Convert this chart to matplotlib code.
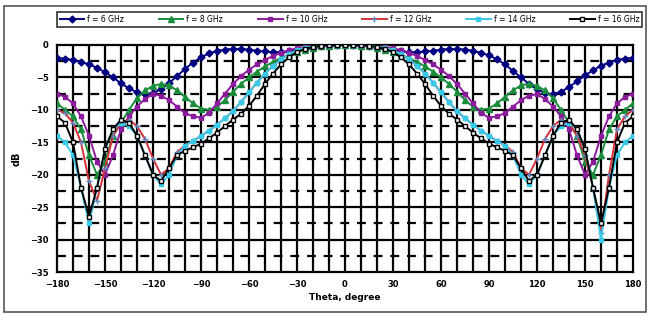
import numpy as np
import matplotlib
matplotlib.use('Agg')
import matplotlib.pyplot as plt
from matplotlib.patches import Rectangle

theta = np.arange(-180, 181, 5)

# values read at 5 deg steps: left half -180..0, right half 0..180
f6_left = [-2, -2.1, -2.3, -2.6, -3.0, -3.5, -4.2, -5.0, -5.9, -6.7, -7.3, -7.6, -7.4, -6.8, -5.9, -4.8, -3.7, -2.7,
           -1.9, -1.3, -0.9, -0.7, -0.6, -0.6, -0.7, -0.9, -1.0, -1.1, -1.1, -1.0, -0.8, -0.6, -0.4, -0.2, -0.1, -0.05, 0]
f6_right = [0, -0.05, -0.1, -0.2, -0.4, -0.6, -0.8, -1.0, -1.1, -1.1, -1.0, -0.9, -0.7, -0.6, -0.6, -0.7, -0.9, -1.2,
            -1.6, -2.2, -3.0, -4.0, -5.0, -6.0, -6.8, -7.4, -7.6, -7.2, -6.5, -5.6, -4.7, -3.9, -3.2, -2.7, -2.3, -2.1, -2]
f8_left = [-9, -10, -11, -13, -17, -20, -18, -14, -12, -10, -8.2, -7, -6.3, -6, -6.2, -7, -8, -9, -9.8, -10,
           -9.5, -8.5, -7.2, -6, -5, -4.1, -3.3, -2.6, -2, -1.5, -1.1, -0.7, -0.4, -0.2, -0.1, -0.05, 0]
f8_right = [0, -0.05, -0.1, -0.2, -0.4, -0.7, -1.1, -1.5, -2, -2.6, -3.3, -4.1, -5, -6, -7.2, -8.5, -9.5, -10, -9.8,
            -9, -8, -7, -6.2, -6, -6.3, -7, -8.2, -10, -12, -14, -18, -20, -17, -13, -11, -10, -9]
f10_left = [-7.5, -8, -9, -11, -14, -18, -20, -17, -13, -11, -9.5, -8.3, -7.6, -7.8, -8.5, -9.5, -10.5, -11, -11.2,
            -10.5, -9, -7.5, -6, -4.8, -3.8, -3, -2.3, -1.7, -1.2, -0.8, -0.5, -0.3, -0.2, -0.1, -0.05, 0, 0]
f10_right = [0, 0, -0.05, -0.1, -0.2, -0.3, -0.5, -0.8, -1.2, -1.7, -2.3, -3, -3.8, -4.8, -6, -7.5, -9, -10.5, -11.2,
             -11, -10.5, -9.5, -8.5, -7.8, -7.6, -8.3, -9.5, -11, -13, -17, -20, -18, -14, -11, -9, -8, -7.5]
f12_left = [-10, -10.5, -12, -15, -21, -24, -19, -14, -12, -11.5, -12.5, -14.5, -17.5, -20, -19, -16.5, -15.5, -14.8,
            -14, -13.2, -12.3, -11.3, -10.2, -8.8, -7.3, -5.8, -4.4, -3.2, -2.2, -1.4, -0.8, -0.4, -0.2, -0.05, 0, 0, 0]
f12_right = [0, 0, 0, -0.05, -0.2, -0.4, -0.8, -1.4, -2.2, -3.2, -4.4, -5.8, -7.3, -8.8, -10.2, -11.3, -12.3, -13.2,
             -14, -14.8, -15.5, -16.5, -19, -20, -17.5, -14.5, -12.5, -11.5, -12, -14, -17, -22, -29, -20, -13, -11, -10]
f14_left = [-14, -15, -17, -22, -27.5, -22, -16, -13, -12, -12.5, -14, -17, -20, -21.5, -20, -17, -15.5, -14.8, -14,
            -13.2, -12.3, -11.3, -10.2, -8.8, -7.3, -5.8, -4.4, -3.2, -2.2, -1.4, -0.8, -0.4, -0.2, -0.05, 0, 0, 0]
f14_right = [0, 0, 0, -0.05, -0.2, -0.4, -0.8, -1.4, -2.2, -3.2, -4.4, -5.8, -7.3, -8.8, -10.2, -11.3, -12.3, -13.2,
             -14, -14.8, -15.5, -17, -20, -21.5, -20, -17, -14, -12.5, -12, -13, -16, -22, -30, -22, -17, -15, -14]
f16_left = [-11, -12, -15, -22, -26.5, -22, -16, -13, -11.5, -12, -14, -17, -20, -21, -19, -17, -16.3, -15.8, -15.2,
            -14.4, -13.5, -12.5, -11.5, -10.6, -9.4, -7.8, -6, -4.4, -3, -1.9, -1.1, -0.6, -0.3, -0.1, 0, 0, 0]
f16_right = [0, 0, 0, -0.1, -0.3, -0.6, -1.1, -1.9, -3, -4.4, -6, -7.8, -9.4, -10.6, -11.5, -12.5, -13.5, -14.4,
             -15.2, -15.8, -16.3, -17, -19, -21, -20, -17, -14, -12, -11.5, -13, -16, -22, -27.5, -22, -15, -12, -11]

labels = ['f = 6 GHz', 'f = 8 GHz', 'f = 10 GHz', 'f = 12 GHz', 'f = 14 GHz', 'f = 16 GHz']

halves = [(f6_left, f6_right), (f8_left, f8_right), (f10_left, f10_right),
          (f12_left, f12_right), (f14_left, f14_right), (f16_left, f16_right)]
series = [np.array(l + r[1:]) for l, r in halves]

styles = [
    dict(color='#000080', marker='D', ms=3.5, mfc='#000080', mec='#000080'),
    dict(color='#1a8c3c', marker='^', ms=4, mfc='#1a8c3c', mec='#1a8c3c'),
    dict(color='#8c1a9c', marker='s', ms=3.5, mfc='#8c1a9c', mec='#8c1a9c'),
    dict(color='#d8303a', marker='+', ms=4, mfc='#5a8cc8', mec='#5a8cc8'),
    dict(color='#38c8e8', marker='s', ms=3, mfc='#38c8e8', mec='#38c8e8'),
    dict(color='black', marker='s', ms=3, mfc='white', mec='black'),
]

fig = plt.figure(figsize=(6.51, 3.16), dpi=100)
W, H = 651, 316
fig.patches.append(Rectangle((4 / W, 4 / H), 642 / W, 306 / H, transform=fig.transFigure,
                             fill=False, ec='#555555', lw=1.2))

ax = fig.add_axes([57 / W, 1 - 272 / H, 576 / W, 227 / H])

for y, st, lab in zip(series, styles, labels):
    ax.plot(theta, y, lw=1.4, label=lab, zorder=3, **st)

ax.set_xlim(-180, 180)
ax.set_ylim(-35, 0)
ax.set_xticks(np.arange(-180, 181, 30))
ax.set_yticks(np.arange(-35, 1, 5))
for v in np.arange(-170, 180, 10):
    ax.axvline(v, color='black', lw=1.6, zorder=1)
for v in np.arange(-30, 0, 5):
    ax.axhline(v, color='black', lw=1.6, zorder=1)
for v in np.arange(-32.5, 0, 5):
    ax.axhline(v, color='black', lw=1.6, ls=(0, (4, 3.5)), zorder=1)
for s in ax.spines.values():
    s.set_linewidth(1.6)
ax.tick_params(length=0, labelsize=6, pad=6)
for t in ax.get_xticklabels() + ax.get_yticklabels():
    t.set_fontweight('bold')
ax.set_xlabel('Theta, degree', fontsize=6.5, fontweight='bold', labelpad=3)
ax.set_ylabel('dB', fontsize=7, fontweight='bold', labelpad=6)

leg = fig.legend(loc='center', bbox_to_anchor=(57 / W, 1 - 30 / H, 585 / W, 21 / H), mode='expand',
                 ncol=6, fontsize=5.5, frameon=True, fancybox=False, handlelength=3.2, borderpad=0.35,
                 handletextpad=0.4, columnspacing=1.0, borderaxespad=0)
leg.get_frame().set_edgecolor('black')
leg.get_frame().set_linewidth(1.2)

fig.savefig('out.png', dpi=100)
